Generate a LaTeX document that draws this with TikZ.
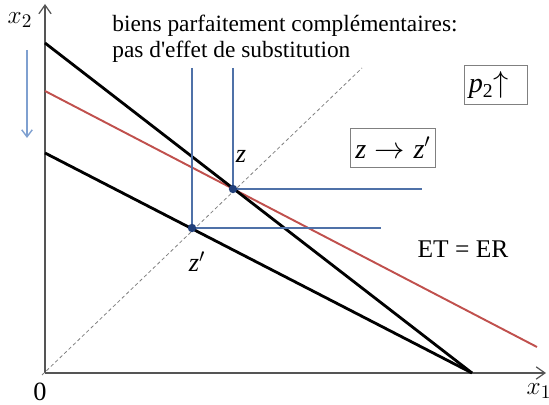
\documentclass[tikz,border=0pt]{standalone}
\usepackage{fontspec}
\setmainfont{Liberation Serif}
\usetikzlibrary{arrows.meta}
\definecolor{axisgray}{HTML}{555555}
\definecolor{cRed}{HTML}{C0504D}
\definecolor{cBlue}{HTML}{4F71A8}
\definecolor{cDot}{HTML}{22407A}
\definecolor{cLight}{HTML}{7FA0D0}
\definecolor{boxgray}{HTML}{808080}
\tikzset{
  axis/.style={draw=axisgray, line width=0.7pt, -{Straight Barb[length=5pt,width=7pt]}},
  budget/.style={line width=1.6pt, black},
  newbudget/.style={line width=1.1pt, cRed},
  leontief/.style={line width=0.8pt, cBlue},
  dot/.style={circle, fill=cDot, inner sep=0pt, minimum size=4.8pt},
  labelbox/.style={draw=boxgray, line width=0.6pt, inner xsep=3pt, minimum height=22.5pt,
    font=\fontsize{16}{18}\selectfont}
}
\begin{document}
\begin{tikzpicture}[x=0.02cm, y=-0.02cm, font=\fontsize{13.3}{15.3}\selectfont]
  \useasboundingbox (0,0) rectangle (549,405);
  % axes
  \coordinate (O) at (45,373);
  \coordinate (xend) at (546,373);
  \coordinate (yend) at (45,4);
  \draw[axis] (O) -- (xend);
  \draw[axis] (O) -- (yend);
  \node[font=\fontsize{15}{17}\selectfont] (xone) at (539,391) {$x_1$};
  \node[font=\fontsize{15}{17}\selectfont] (xtwo) at (20,20) {$x_2$};
  \node[font=\fontsize{15}{17}\selectfont] (zero) at (40,392) {0};
  % diagonal
  \coordinate (dstart) at (42,375);
  \coordinate (dend) at (362,68);
  \draw[dashed, dash pattern=on 2pt off 1.5pt, gray, line width=0.45pt] (dstart) -- (dend);
  % budget lines
  \coordinate (A) at (45,43);
  \coordinate (B) at (45,153);
  \coordinate (C) at (472,373);
  \coordinate (R1) at (45,91);
  \coordinate (R2) at (537,347);
  \draw[newbudget] (R1) -- (R2);
  \draw[budget] (A) -- (C);
  \draw[budget] (B) -- (C);
  % indifference curves
  \coordinate (z) at (233,189);
  \coordinate (zp) at (192,228);
  \coordinate (ztop) at (233,68);
  \coordinate (zright) at (422,189);
  \coordinate (zptop) at (192,68);
  \coordinate (zpright) at (381,228);
  \draw[leontief] (ztop) -- (z) -- (zright);
  \draw[leontief] (zptop) -- (zp) -- (zpright);
  \node[dot] (zdot) at (z) {};
  \node[dot] (zpdot) at (zp) {};
  % labels
  \node[font=\fontsize{15}{17}\selectfont] (zlab) at (241,156) {\textit{z}};
  \node[font=\fontsize{15}{17}\selectfont] (zplab) at (197,262) {\textit{z}$'$};
  \node[anchor=base west, align=left, inner sep=0pt] (title) at (112,58)
    {biens parfaitement complémentaires:\\pas d\textquotesingle effet de substitution};
  \node[labelbox, text width=31pt, align=left, inner xsep=2.5pt] (price) at (496,85)
    {\textit{p}\textsubscript{2}$\big\uparrow$};
  \node[labelbox] (move) at (393,148) {\textit{z}$\;\rightarrow\;$\textit{z}$'$};
  \node[font=\fontsize{14.5}{17}\selectfont] (eter) at (463,249) {ET = ER};
  % shift arrow
  \coordinate (sa) at (27,50);
  \coordinate (sb) at (27,138);
  \draw[cLight, line width=0.8pt, -{Straight Barb[length=4pt,width=6pt]}] (sa) -- (sb);
\end{tikzpicture}
\end{document}
